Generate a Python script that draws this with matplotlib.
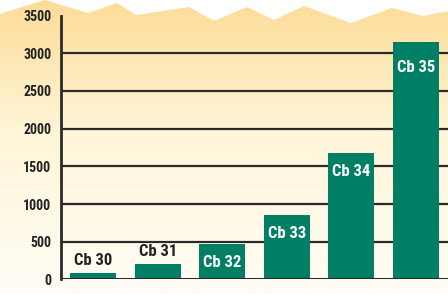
import numpy as np
import matplotlib
matplotlib.use('Agg')
import matplotlib.pyplot as plt
from matplotlib.patches import Polygon
from matplotlib.colors import LinearSegmentedColormap
from matplotlib import font_manager

# data
categories = ['Cb 30', 'Cb 31', 'Cb 32', 'Cb 33', 'Cb 34', 'Cb 35']
values = [85, 204, 465, 850, 1676, 3144]
label_inside = [False, False, True, True, True, True]
yticks = [0, 500, 1000, 1500, 2000, 2500, 3000, 3500]

names = sorted({f.name for f in font_manager.fontManager.ttflist})
font = 'DejaVu Sans'
for cand in ['Liberation Sans Narrow', 'Roboto Condensed', 'Open Sans Condensed',
             'DejaVu Sans Condensed', 'Roboto']:
    if cand in names:
        font = cand
        break
print('using', font)
plt.rcParams['font.family'] = [font, 'DejaVu Sans']

W, H = 448, 294
fig = plt.figure(figsize=(W / 100, H / 100), dpi=100)
fig.patch.set_facecolor('white')

# background gradient with zigzag top
bg = fig.add_axes([0, 0, 1, 1])
bg.set_xlim(0, W)
bg.set_ylim(H, 0)
bg.axis('off')
cmap = LinearSegmentedColormap.from_list(
    'bg', [(0.0, '#fddc98'), (0.45, '#fff5d8'), (0.9, '#fffcf0'), (1.0, '#fffdf8')])
grad = np.linspace(0, 1, 256).reshape(-1, 1)
im = bg.imshow(grad, cmap=cmap, extent=[0, W, H, 0], aspect='auto')
zig = [(0, 14), (45, 0), (88, 13), (117, 3), (136, 15), (189, 7), (214, 21),
       (247, 7), (274, 20), (304, 6), (351, 23), (392, 8), (423, 16), (448, 11),
       (448, H), (0, H)]
poly = Polygon(zig, closed=True, transform=bg.transData, facecolor='none', edgecolor='none')
bg.add_patch(poly)
im.set_clip_path(poly)

# main chart
ax = fig.add_axes([61 / W, (H - 279.4) / H, (W - 61) / W, (279.4 - 15.6) / H])
ax.patch.set_alpha(0)
x = np.arange(len(categories))
bar_color = '#007f64'
ax.bar(x, values, width=0.71, color=bar_color, zorder=3)
ax.set_xlim(-0.5, 5.5)
ax.set_ylim(0, 3500)

for y in yticks[1:-1]:
    ax.axhline(y, color='#2a2a2a', lw=1.6, zorder=1)
ax.axhline(0, color='#2a2a2a', lw=2.2, zorder=4)

for s in ['top', 'right', 'bottom']:
    ax.spines[s].set_visible(False)
ax.spines['left'].set_linewidth(2.0)
ax.spines['left'].set_color('#2a2a2a')
ax.spines['left'].set_bounds(0, 3500)

ax.set_xticks([])
ax.set_yticks(yticks)
ax.set_yticklabels([str(v) for v in yticks], fontsize=10, fontweight='bold', color='#222222')
ax.tick_params(axis='y', length=0, pad=7)

for i, (v, lab, inside) in enumerate(zip(values, categories, label_inside)):
    if inside:
        off = -25 if v > 3000 else -18
        ax.annotate(lab, (i, v), xytext=(0, off), textcoords='offset pixels',
                    ha='center', va='center', fontsize=12, fontweight='bold',
                    color='white', zorder=5)
    else:
        ax.annotate(lab, (i, v), xytext=(0, 5), textcoords='offset pixels',
                    ha='center', va='bottom', fontsize=12, fontweight='bold',
                    color='#222222', zorder=5)

fig.savefig('out.png', dpi=100)
